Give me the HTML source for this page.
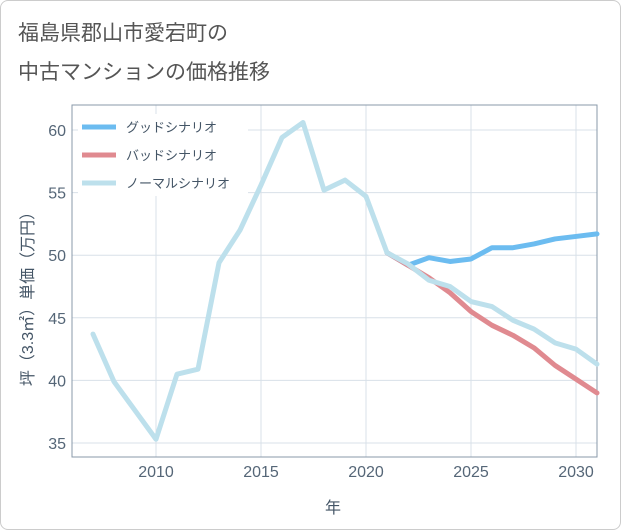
<!DOCTYPE html>
<html><head><meta charset="utf-8"><style>
body{margin:0;background:#fff;}
#wrap{position:relative;width:619px;height:528px;border:1px solid #ccc;border-radius:8px;background:#fff;overflow:hidden;font-family:"Liberation Sans","Noto Sans CJK JP",sans-serif;}
.title{position:absolute;left:17px;font-size:21px;color:#555;}
</style></head><body>
<div id="wrap">
<div class="title" style="top:16px">福島県郡山市愛宕町の</div>
<div class="title" style="top:55px">中古マンションの価格推移</div>
<svg id="chart" width="621" height="530" style="position:absolute;left:-1px;top:-1px"></svg>
</div>
<script>
const normalYears=[2007,2008,2009,2010,2011,2012,2013,2014,2015,2016,2017,2018,2019,2020,2021,2022,2023,2024,2025,2026,2027,2028,2029,2030,2031];
const normalVals=[43.7,39.9,37.6,35.3,40.5,40.9,49.4,52.0,55.6,59.4,60.6,55.2,56.0,54.7,50.2,49.3,48.0,47.5,46.3,45.9,44.8,44.1,43.0,42.5,41.3];
const goodYears=[2021,2022,2023,2024,2025,2026,2027,2028,2029,2030,2031];
const goodVals=[50.2,49.2,49.8,49.5,49.7,50.6,50.6,50.9,51.3,51.5,51.7];
const badYears=[2021,2022,2023,2024,2025,2026,2027,2028,2029,2030,2031];
const badVals=[50.2,49.2,48.2,47.0,45.5,44.4,43.6,42.6,41.2,40.1,39.0];
const xTicks=[2010,2015,2020,2025,2030];
const yTicks=[35,40,45,50,55,60];
const legendLabels=["グッドシナリオ","バッドシナリオ","ノーマルシナリオ"];
const legendColors=["#6cbcf0","#e08a90","#bde0ec"];
const NS="http://www.w3.org/2000/svg";
const svg=document.getElementById('chart');
const L=72,R=597,T=105,B=457;
const x=y=>156+(y-2010)*21;
const yy=v=>130+(60-v)*(313/25);
function mk(t,a){const e=document.createElementNS(NS,t);for(const k in a)e.setAttribute(k,a[k]);svg.appendChild(e);return e;}
for(let yr=2006;yr<=2031;yr+=5){}
xTicks.forEach(t=>{const l=mk('line',{x1:x(t),x2:x(t),y1:T,y2:B,stroke:'#d8e0e8','stroke-width':1});

const tx=mk('text',{x:x(t),y:477,'text-anchor':'middle','font-size':16,fill:'#556677'});tx.textContent=t;
});
yTicks.forEach(t=>{const l=mk('line',{x1:L,x2:R,y1:yy(t),y2:yy(t),stroke:'#d8e0e8','stroke-width':1});

const tx=mk('text',{x:66,y:yy(t)+6,'text-anchor':'end','font-size':16,fill:'#556677'});tx.textContent=t;
});
const fr=mk('rect',{x:L,y:T,width:R-L,height:B-T,fill:'none',stroke:'#8899aa','stroke-width':1});

function series(ys,vs,c,name){const p=mk('polyline',{points:ys.map((y,i)=>x(y)+','+yy(vs[i])).join(' '),fill:'none',stroke:c,'stroke-width':5,'stroke-linejoin':'round','stroke-linecap':'round'});
}
series(goodYears,goodVals,legendColors[0],'good-scenario-line');
series(badYears,badVals,legendColors[1],'bad-scenario-line');
series(normalYears,normalVals,legendColors[2],'normal-scenario-line');
const lb=mk('rect',{x:78,y:114,width:170,height:82,fill:'#fff'});

legendLabels.forEach((s,i)=>{const yv=127+i*28;
const l=mk('line',{x1:82,x2:116,y1:yv,y2:yv,stroke:legendColors[i],'stroke-width':5});

const t=mk('text',{x:126,y:yv+5,'font-size':13,fill:'#445566'});t.textContent=s;
});
const xt=mk('text',{x:333,y:513,'text-anchor':'middle','font-size':16,fill:'#445566'});xt.textContent='年';

const yt=mk('text',{x:0,y:0,'text-anchor':'middle','font-size':16,fill:'#445566',transform:'translate(33,295) rotate(-90)'});yt.textContent='坪（3.3㎡）単価（万円）';

</script>
</body></html>
